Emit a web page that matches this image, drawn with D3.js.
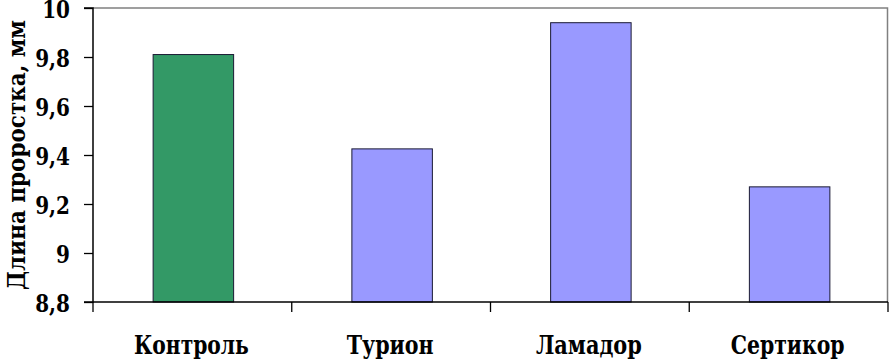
<!DOCTYPE html>
<html><head><meta charset="utf-8">
<script src="https://cdn.jsdelivr.net/npm/d3@7/dist/d3.min.js"></script>
<style>
body{margin:0;background:#fff}
.t{font-family:"DejaVu Serif";font-weight:bold}
</style>
</head><body>
<script>
const categories = ["Контроль", "Турион", "Ламадор", "Сертикор"];
const values = [9.81, 9.425, 9.94, 9.27];
const barColors = ["#339966", "#9999FF", "#9999FF", "#9999FF"];
const yTicks = [8.8, 9, 9.2, 9.4, 9.6, 9.8, 10];
const yTickLabels = ["8,8", "9", "9,2", "9,4", "9,6", "9,8", "10"];
const labelLengths = [115, 87, 106, 114];
const yTitle = "Длина проростка, мм";

const W = 889, H = 359;
const m = {left: 93, right: 1, top: 8, bottom: 57};
const svg = d3.select("body").append("svg").attr("width", W).attr("height", H).style("display", "block");

const x = d3.scaleBand().domain(categories).range([m.left, W - m.right]).padding(0);
const y = d3.scaleLinear().domain([8.8, 10]).range([H - m.bottom, m.top]);

svg.append("path")
  .attr("d", `M${m.left},${y(10)}H${W - m.right - 0.5}V${y(8.8)}`)
  .attr("fill", "none").attr("stroke", "#808080").attr("stroke-width", 1.5);

const bw = x.bandwidth() * 0.405;
svg.selectAll("rect.bar").data(values).join("rect")
  .attr("class", "bar")
  .attr("x", (d, i) => x(categories[i]) + x.bandwidth() / 2 - bw / 2 + 1)
  .attr("y", d => y(d))
  .attr("width", bw)
  .attr("height", d => y(8.8) - y(d))
  .attr("fill", (d, i) => barColors[i])
  .attr("stroke", "#1a1a33").attr("stroke-width", 1);

const yAxis = d3.axisLeft(y).tickValues(yTicks).tickSize(9)
  .tickFormat((d, i) => yTickLabels[i]);
const gy = svg.append("g").attr("transform", `translate(${m.left},0)`).call(yAxis);
gy.attr("font-family", null).attr("font-size", null);
gy.select(".domain").attr("stroke", "#000").attr("stroke-width", 1.5).attr("d", `M-9,${y(10)}H0V${y(8.8)}H-9`);
gy.selectAll(".tick line").attr("stroke", "#000").attr("stroke-width", 1.3);
gy.selectAll(".tick text").attr("class", "t").attr("x", -23).attr("dy", "0.36em")
  .attr("font-size", 25).attr("fill", "#000")
  .each(function () {
    const w = this.getComputedTextLength();
    d3.select(this).attr("textLength", w * 0.8).attr("lengthAdjust", "spacingAndGlyphs");
  });

const gx = svg.append("g").attr("transform", `translate(0,${y(8.8)})`);
gx.append("line").attr("x1", m.left).attr("x2", W - m.right).attr("stroke", "#000").attr("stroke-width", 1.5);
const boundaries = categories.map(c => x(c)).concat([x(categories[categories.length - 1]) + x.bandwidth()]);
gx.selectAll("line.tk").data(boundaries).join("line").attr("class", "tk")
  .attr("x1", d => d).attr("x2", d => d).attr("y1", 0).attr("y2", 10)
  .attr("stroke", "#000").attr("stroke-width", 1.3);
svg.selectAll("text.xl").data(categories).join("text").attr("class", "xl t")
  .attr("x", d => x(d) + x.bandwidth() / 2 - 1)
  .attr("y", 354)
  .attr("text-anchor", "middle")
  .attr("textLength", (d, i) => labelLengths[i]).attr("lengthAdjust", "spacingAndGlyphs")
  .attr("font-size", 26)
  .text(d => d);

svg.append("text").attr("class", "t")
  .attr("transform", `translate(25,${155}) rotate(-90)`)
  .attr("text-anchor", "middle")
  .attr("textLength", 270).attr("lengthAdjust", "spacingAndGlyphs")
  .attr("font-size", 25)
  .text(yTitle);
</script>
</body></html>
